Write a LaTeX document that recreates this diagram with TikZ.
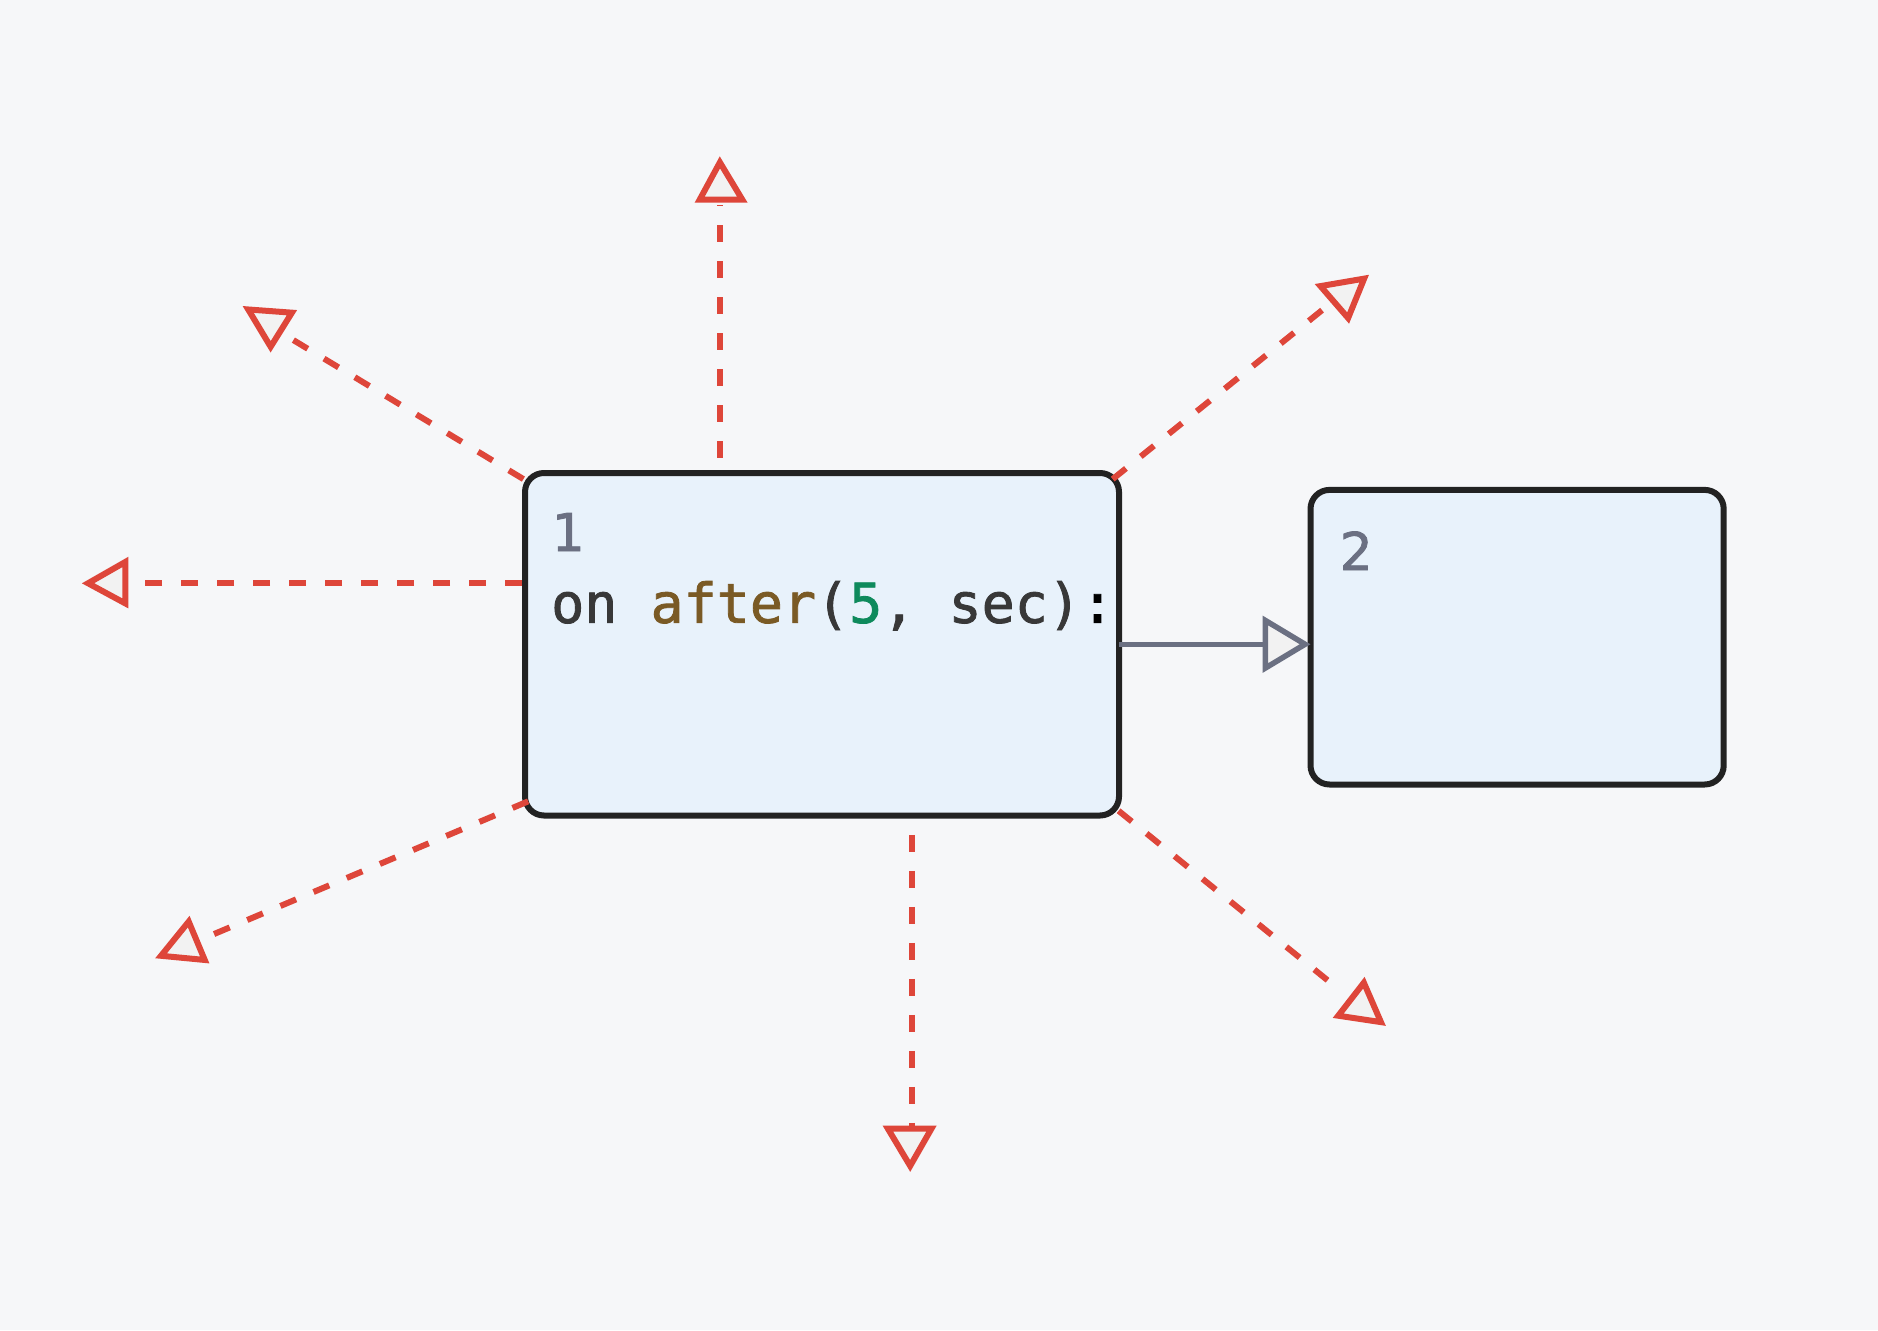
\documentclass[tikz,border=0pt]{standalone}
\usepackage{fontspec}
\setmainfont{DejaVu Sans}[FakeBold=1.5]
\newfontfamily\codefont{DejaVu Sans Mono}[FakeBold=1.5]
\usetikzlibrary{arrows.meta}
\definecolor{bgc}{HTML}{F6F7F9}
\definecolor{boxfill}{HTML}{E8F2FB}
\definecolor{boxline}{HTML}{222222}
\definecolor{redc}{HTML}{DE463A}
\definecolor{grayc}{HTML}{6B7082}
\definecolor{tipfill}{HTML}{F2F2F2}
\definecolor{codedark}{HTML}{383838}
\definecolor{fnbrown}{HTML}{7A5A25}
\definecolor{numgreen}{HTML}{0E8A5C}
\tikzset{
  statebox/.style={draw=boxline, fill=boxfill, line width=6pt, rounded corners=19pt,
    rectangle, inner sep=0pt, outer sep=0pt, anchor=north west},
  numlabel/.style={anchor=base west, inner sep=0pt, text=grayc,
    font=\fontsize{52}{60}\selectfont},
  codelabel/.style={anchor=base west, inner sep=0pt,
    font=\codefont\fontsize{55}{64}\selectfont},
  reddash/.style={draw=redc, line width=6pt, dash pattern=on 17pt off 19pt},
  redtip/.style={draw=redc, fill=tipfill, line width=6pt, line join=miter},
  grayarrow/.style={draw=grayc, line width=5pt,
    -{Triangle[open, length=48pt, width=56pt, fill=tipfill, line width=5.5pt]}}
}
\begin{document}
\begin{tikzpicture}[x=1pt, y=-1pt]
\useasboundingbox[fill=bgc] (0,0) rectangle (1878,1330);

\node[statebox, minimum width=594pt, minimum height=342.5pt] (b1) at (525,473) {};
\node[statebox, minimum width=413.2pt, minimum height=294.6pt] (b2) at (1310.5,489.9) {};

\node[numlabel] (l1) at (551.5,551) {1};
\node[numlabel] (l2) at (1339.5,570) {2};
\node[codelabel] (c1) at (551,622.8) {\color{codedark}on \color{fnbrown}after\color{codedark}(\color{numgreen}5\color{codedark}, sec)\color{black}:};

% gray transition arrow
\draw[grayarrow] (b1.east) -- (b1.east -| b2.west);

% red dashed connectors (start / end coordinates)
\coordinate (uS) at (719.8,457.5);  \coordinate (uE) at (719.8,205);
\coordinate (ulS) at (523.4,479.1); \coordinate (ulE) at (293.4,340.1);
\coordinate (lS) at (522.2,583.3);  \coordinate (lE) at (129.4,583.3);
\coordinate (dlS) at (528.2,801.3); \coordinate (dlE) at (210.8,935.4);
\coordinate (dS) at (911.5,834.8);  \coordinate (dE) at (911.5,1125.8);
\coordinate (drS) at (1118.6,810.8); \coordinate (drE) at (1340.2,990.5);
\coordinate (urS) at (1112.7,479.1); \coordinate (urE) at (1323.5,309.0);

\foreach \s/\e in {uS/uE, ulS/ulE, lS/lE, dlS/dlE, dS/dE, drS/drE, urS/urE}
  \draw[reddash] (\s) -- (\e);

% red open triangles
\draw[redtip, scale around={0.89:(720.6,187.2)}] (719.8,159.3) -- (745.0,201.2) -- (697.1,201.2) -- cycle;
\draw[redtip, scale around={0.89:(270.3,323.0)}] (245.5,307.8) -- (294.6,311.4) -- (270.7,349.7) -- cycle;
\draw[redtip, scale around={0.89:(113.0,582.9)}] (85.0,583.3) -- (127.0,559.3) -- (127.0,606.0) -- cycle;
\draw[redtip, scale around={0.89:(184.8,945.8)}] (189.2,918.6) -- (207.2,961.7) -- (158.1,957.0) -- cycle;
\draw[redtip, scale around={0.89:(909.8,1141.0)}] (910.2,1169.0) -- (885.1,1127.0) -- (934.2,1127.0) -- cycle;
\draw[redtip, scale around={0.89:(1361.0,1006.8)}] (1364.2,979.7) -- (1383.4,1024.0) -- (1335.4,1016.8) -- cycle;
\draw[redtip, scale around={0.89:(1344.2,294.3)}] (1317.5,285.1) -- (1366.6,276.7) -- (1348.6,321.0) -- cycle;
\end{tikzpicture}
\end{document}
